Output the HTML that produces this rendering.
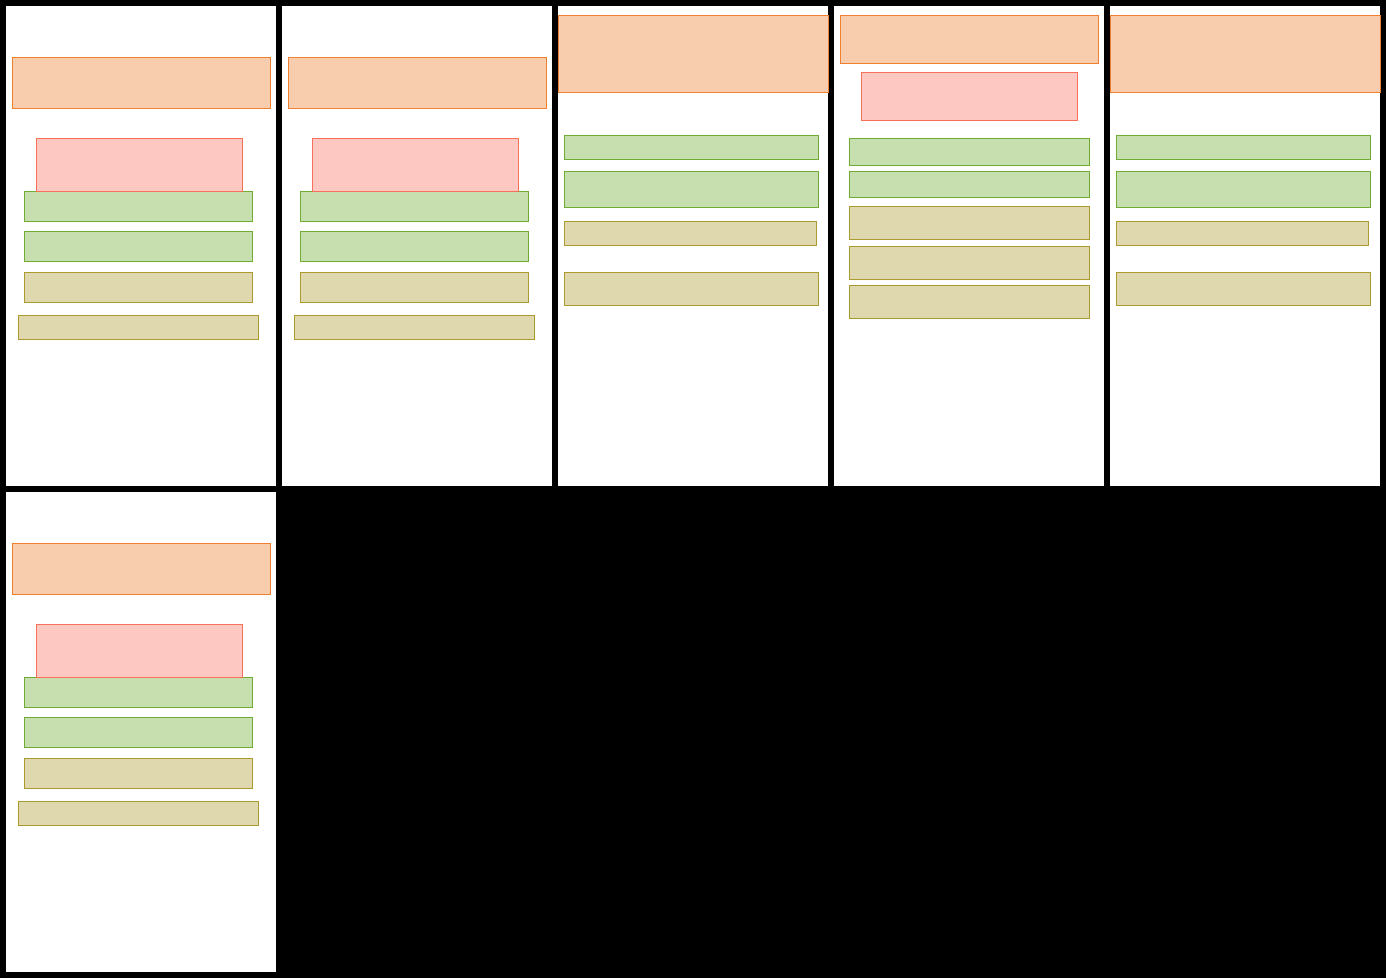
<!DOCTYPE html>
<html><head><meta charset="utf-8"><style>
html,body{margin:0;padding:0;background:#000;}
svg{display:block}
</style></head><body>
<svg width="1386" height="978" viewBox="0 0 1386 978" xmlns="http://www.w3.org/2000/svg">
<rect x="0" y="0" width="1386" height="978" fill="#000"/>
<g fill="#fff">
<rect x="6" y="6" width="270" height="480"/>
<rect x="282" y="6" width="270" height="480"/>
<rect x="558" y="6" width="270" height="480"/>
<rect x="834" y="6" width="270" height="480"/>
<rect x="1110" y="6" width="270" height="480"/>
<rect x="6" y="492" width="270" height="480"/>
</g>
<defs>
<g id="pA">
<rect x="12.5" y="57.5" width="258" height="51" fill="#f8cdad" stroke="#f08030"/>
<rect x="24.5" y="191.5" width="228" height="30" fill="#c7dfae" stroke="#70ab33"/>
<rect x="36.5" y="138.5" width="206" height="53" fill="#fec8c2" stroke="#f7705a"/>
<rect x="24.5" y="231.5" width="228" height="30" fill="#c7dfae" stroke="#70ab33"/>
<rect x="24.5" y="272.5" width="228" height="30" fill="#dfd8ae" stroke="#ab9a2d"/>
<rect x="18.5" y="315.5" width="240" height="24" fill="#dfd8ae" stroke="#ab9a2d"/>
</g>
<g id="pB">
<rect x="558.5" y="15.5" width="270" height="77" fill="#f8cdad" stroke="#f08030"/>
<rect x="564.5" y="135.5" width="254" height="24" fill="#c7dfae" stroke="#70ab33"/>
<rect x="564.5" y="171.5" width="254" height="36" fill="#c7dfae" stroke="#70ab33"/>
<rect x="564.5" y="221.5" width="252" height="24" fill="#dfd8ae" stroke="#ab9a2d"/>
<rect x="564.5" y="272.5" width="254" height="33" fill="#dfd8ae" stroke="#ab9a2d"/>
</g>
</defs>
<use href="#pA"/>
<use href="#pA" transform="translate(276,0)"/>
<use href="#pA" transform="translate(0,486)"/>
<use href="#pB"/>
<use href="#pB" transform="translate(552,0)"/>
<rect x="840.5" y="15.5" width="258" height="48" fill="#f8cdad" stroke="#f08030"/>
<rect x="861.5" y="72.5" width="216" height="48" fill="#fec8c2" stroke="#f7705a"/>
<rect x="849.5" y="138.5" width="240" height="27" fill="#c7dfae" stroke="#70ab33"/>
<rect x="849.5" y="171.5" width="240" height="26" fill="#c7dfae" stroke="#70ab33"/>
<rect x="849.5" y="206.5" width="240" height="33" fill="#dfd8ae" stroke="#ab9a2d"/>
<rect x="849.5" y="246.5" width="240" height="33" fill="#dfd8ae" stroke="#ab9a2d"/>
<rect x="849.5" y="285.5" width="240" height="33" fill="#dfd8ae" stroke="#ab9a2d"/>
</svg>
</body></html>
